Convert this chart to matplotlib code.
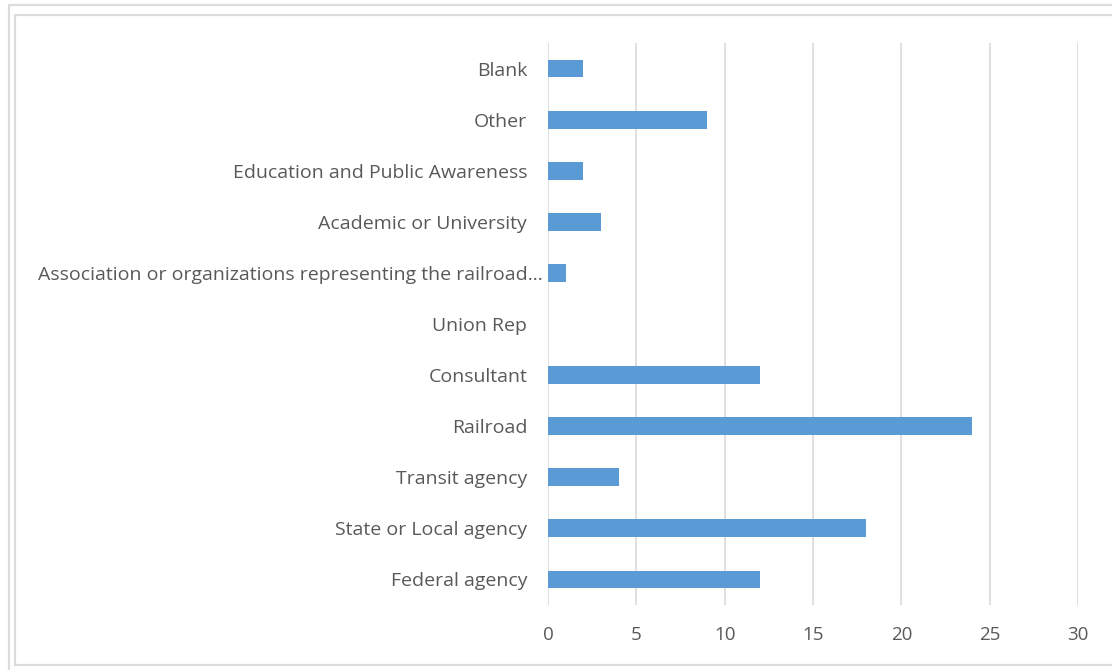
import matplotlib
matplotlib.use("Agg")
import matplotlib.pyplot as plt
import matplotlib.transforms as mtransforms
from matplotlib.lines import Line2D

# respondent affiliation counts, bottom to top
categories = [
    "Federal agency",
    "State or Local agency",
    "Transit agency",
    "Railroad",
    "Consultant",
    "Union Rep",
    "Association or organizations representing the railroad...",
    "Academic or University",
    "Education and Public Awareness",
    "Other",
    "Blank",
]
counts = [12, 18, 4, 24, 12, 0, 1, 3, 2, 9, 2]
x_ticks = [0, 5, 10, 15, 20, 25, 30]

BAR_COLOR = "#5b9bd5"
GRID_COLOR = "#d9d9d9"
TEXT_COLOR = "#595959"

plt.rcParams["font.family"] = ["Open Sans", "DejaVu Sans"]

W, H = 1112, 670
fig = plt.figure(figsize=(W / 100, H / 100), dpi=100)
ax = fig.add_axes([548 / W, 1 - 605 / H, (1078 - 548) / W, (605 - 43) / H])

y = list(range(len(categories)))
ax.barh(y, counts, height=0.35, color=BAR_COLOR, zorder=3)

ax.set_xlim(0, 30)
ax.set_ylim(-0.5, len(categories) - 0.5)
ax.set_xticks(x_ticks)
ax.set_xticklabels([str(t) for t in x_ticks])
ax.set_yticks(y)
ax.set_yticklabels(categories)
ax.tick_params(axis="y", length=0, pad=15, labelsize=14, labelcolor=TEXT_COLOR)
ax.tick_params(axis="x", length=0, pad=15, labelsize=13.5, labelcolor=TEXT_COLOR)

# the truncated long label sits closer to the axis
for lbl in ax.get_yticklabels():
    if lbl.get_text().endswith("..."):
        lbl.set_transform(lbl.get_transform() +
                          mtransforms.ScaledTranslation(16 / 100, 0, fig.dpi_scale_trans))

ax.grid(axis="x", color=GRID_COLOR, linewidth=1.2, zorder=0)
for s in ax.spines.values():
    s.set_visible(False)

# chart frames
def frame_line(xs, ys, lw=1.6):
    fig.add_artist(Line2D([x / W for x in xs], [1 - v / H for v in ys],
                          color="#dcdcdc", linewidth=lw, transform=fig.transFigure))

frame_line([9, 9, W + 5], [H + 5, 5, 5])
frame_line([15, 15, W + 5], [665, 15, 15])
frame_line([15, W + 5], [665, 665])

fig.savefig("out.png", dpi=100)
